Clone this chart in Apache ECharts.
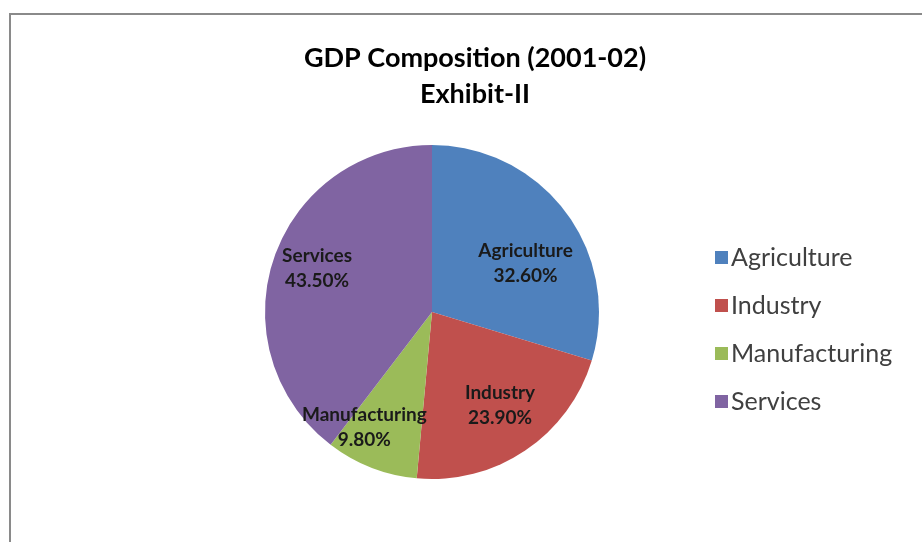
<!DOCTYPE html>
<html>
<head>
<meta charset="utf-8">
<title>GDP Composition (2001-02)</title>
<script src="https://cdn.jsdelivr.net/npm/echarts@6/dist/echarts.min.js"></script>
<style>
    html, body { margin: 0; padding: 0; background: #fff; }
    #chart { width: 922px; height: 542px; }
</style>
</head>
<body>
<div id="chart"></div>
<script>
const categories = ['Agriculture', 'Industry', 'Manufacturing', 'Services'];
const shares = [32.6, 23.9, 9.8, 43.5];
const titleLines = ['GDP Composition (2001-02)', 'Exhibit-II'];

const colors = ['#4F81BD', '#C0504D', '#9BBB59', '#8064A2'];
const fontFamily = 'Lato, "Open Sans", sans-serif';
const pieCenter = [432, 312];
// move inside labels outward / around a bit, roughly where Excel put them
const labelSpread = [1.22, 1.34, 1.55, 1.42];
const labelTurn = [9, -2, 9, 2]; // degrees, clockwise

const chart = echarts.init(document.getElementById('chart'));

chart.setOption({
    animation: false,
    color: colors,
    graphic: [{
        type: 'rect',
        shape: { x: 10, y: 14, width: 1000, height: 1000 },
        style: { fill: 'none', stroke: '#8a8a8a', lineWidth: 2 }
    }],
    title: {
        text: titleLines.join('\n'),
        left: 470,
        top: 35,
        textAlign: 'center',
        textStyle: {
            fontFamily: fontFamily,
            fontSize: 27,
            fontWeight: 'bold',
            color: '#000',
            lineHeight: 36
        }
    },
    legend: {
        orient: 'vertical',
        left: 710,
        top: 240,
        itemGap: 23,
        itemWidth: 13,
        itemHeight: 13,
        icon: 'rect',
        data: categories,
        textStyle: {
            fontFamily: fontFamily,
            fontSize: 25,
            color: '#404040',
            padding: [0, 0, 0, -2]
        }
    },
    series: [{
        name: 'GDP Composition',
        type: 'pie',
        center: pieCenter,
        radius: 167,
        startAngle: 90,
        clockwise: true,
        itemStyle: { borderColor: '#fff', borderWidth: 0 },
        label: {
            show: true,
            position: 'inside',
            formatter: p => p.name + '\n' + p.value.toFixed(2) + '%',
            fontFamily: fontFamily,
            fontSize: 19,
            fontWeight: 'bold',
            lineHeight: 25,
            color: '#1a1a1a',
            textBorderWidth: 0
        },
        labelLine: { show: false },
        labelLayout: params => {
            const r = params.labelRect;
            const i = params.dataIndex;
            const dx = r.x + r.width / 2 - pieCenter[0];
            const dy = r.y + r.height / 2 - pieCenter[1];
            const dist = Math.sqrt(dx * dx + dy * dy) * labelSpread[i];
            const ang = Math.atan2(dy, dx) + labelTurn[i] * Math.PI / 180;
            return {
                x: pieCenter[0] + dist * Math.cos(ang),
                y: pieCenter[1] + dist * Math.sin(ang),
                align: 'center',
                verticalAlign: 'middle'
            };
        },
        emphasis: { disabled: true },
        data: categories.map((name, i) => ({ name: name, value: shares[i] }))
    }]
});
</script>
</body>
</html>
